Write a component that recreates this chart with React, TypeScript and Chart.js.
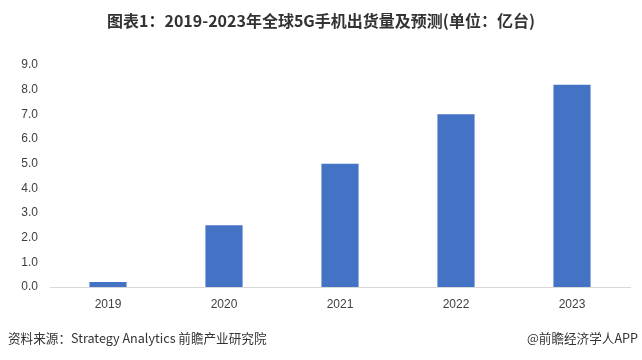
import React, { useEffect, useRef } from "react";
import { Chart, registerables } from "chart.js";

Chart.register(...registerables);

const categories = ["2019", "2020", "2021", "2022", "2023"];
const shipments = [0.2, 2.5, 5.0, 7.0, 8.2];
const yTicks = [0, 1, 2, 3, 4, 5, 6, 7, 8, 9];
const titleText = "图表1：2019-2023年全球5G手机出货量及预测(单位：亿台)";
const sourceText = "资料来源：Strategy Analytics 前瞻产业研究院";
const brandText = "@前瞻经济学人APP";

export default function App() {
  const ref = useRef<HTMLCanvasElement | null>(null);

  useEffect(() => {
    document.body.style.margin = "0";
    const chart = new Chart(ref.current!, {
      type: "bar",
      data: {
        labels: categories,
        datasets: [
          {
            data: shipments,
            backgroundColor: "#4472C4",
            barPercentage: 0.32,
            categoryPercentage: 1,
          },
        ],
      },
      options: {
        animation: false,
        responsive: false,
        maintainAspectRatio: false,
        layout: { padding: { top: 65, right: 12, left: 0, bottom: 0 } },
        plugins: { legend: { display: false }, tooltip: { enabled: false } },
        scales: {
          x: {
            grid: { display: false, drawTicks: false },
            border: { display: true, color: "#D9D9D9", width: 1 },
            ticks: { color: "#404040", font: { family: "Liberation Sans", size: 12 }, padding: 10 },
            afterFit: (s: any) => {
              s.height = 73;
            },
          },
          y: {
            min: 0,
            max: 9,
            afterBuildTicks: (s: any) => {
              s.ticks = yTicks.map((v) => ({ value: v }));
            },
            grid: { display: false, drawTicks: false },
            border: { display: false },
            ticks: {
              color: "#404040",
              font: { family: "Liberation Sans", size: 12 },
              padding: 12,
              callback: (v: any) => Number(v).toFixed(1),
            },
            afterFit: (s: any) => {
              s.width = 50;
            },
          },
        },
      },
    });
    return () => chart.destroy();
  }, []);

  return (
    <div style={{ position: "relative", width: 642, height: 360, background: "#fff", fontFamily: "'Noto Sans CJK SC', sans-serif" }}>
      <canvas ref={ref} width={642} height={360} style={{ position: "absolute", left: 0, top: 0 }} />
      <div
        style={{
          position: "absolute",
          top: 9,
          left: 0,
          width: 642,
          textAlign: "center",
          fontSize: 16,
          fontWeight: 700,
          color: "#333",
          lineHeight: "22px",
        }}
      >
        {titleText}
      </div>
      <div style={{ position: "absolute", top: 329, left: 8, fontSize: 12.6, color: "#333", lineHeight: "18px" }}>
        {sourceText}
      </div>
      <div style={{ position: "absolute", top: 329, right: 4, fontSize: 12.6, color: "#333", lineHeight: "18px" }}>
        {brandText}
      </div>
    </div>
  );
}
